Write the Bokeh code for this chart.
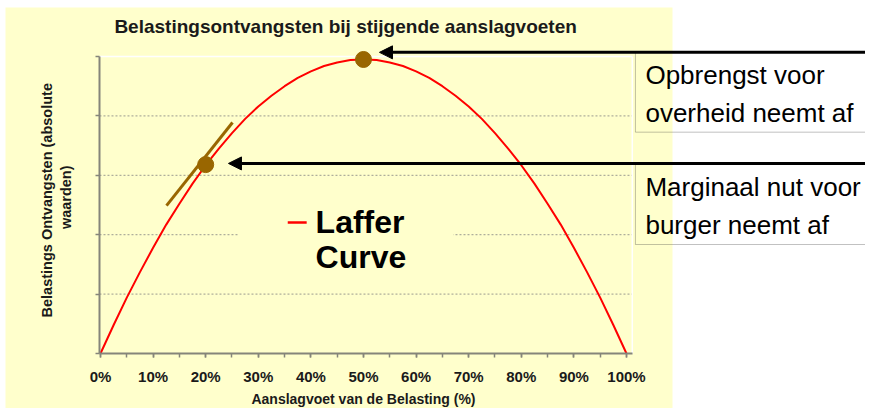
from math import pi
from bokeh.plotting import figure
from bokeh.models import (Range1d, FixedTicker, Label, Arrow, NormalHead,
                          BoxAnnotation)
from bokeh.embed import file_html
from bokeh.resources import INLINE

# ---------------- data ----------------
tax_rate = [0, 2.5, 5, 7.5, 10, 12.5, 15, 17.5, 20, 22.5, 25, 27.5, 30, 32.5, 35,
            37.5, 40, 42.5, 45, 47.5, 50, 52.5, 55, 57.5, 60, 62.5, 65, 67.5, 70,
            72.5, 75, 77.5, 80, 82.5, 85, 87.5, 90, 92.5, 95, 97.5, 100]
revenue = [0.00, 0.48, 0.94, 1.37, 1.78, 2.17, 2.52, 2.86, 3.17, 3.45, 3.71,
           3.95, 4.16, 4.34, 4.50, 4.64, 4.75, 4.84, 4.90, 4.94, 4.95,
           4.94, 4.90, 4.84, 4.75, 4.64, 4.50, 4.34, 4.16, 3.95, 3.71,
           3.45, 3.17, 2.86, 2.52, 2.17, 1.78, 1.37, 0.94, 0.48, 0.00]
x_ticks = [0, 10, 20, 30, 40, 50, 60, 70, 80, 90, 100]
x_minor_ticks = [0, 5, 10, 15, 20, 25, 30, 35, 40, 45, 50,
                 55, 60, 65, 70, 75, 80, 85, 90, 95, 100]
x_tick_labels = ["0%", "10%", "20%", "30%", "40%", "50%",
                 "60%", "70%", "80%", "90%", "100%"]
y_ticks = [0, 1, 2, 3, 4, 5]
grid_ticks = [1, 2, 3, 4]
marker_x = [20, 50]
marker_y = [3.18, 4.95]
tangent_x = [12.55, 25.1]
tangent_y = [2.49, 3.89]

title_text = "Belastingsontvangsten bij stijgende aanslagvoeten"
x_label = "Aanslagvoet van de Belasting (%)"
y_label_lines = ["Belastings Ontvangsten (absolute", "waarden)"]
legend_lines = ["Laffer", "Curve"]
box1_lines = ["Opbrengst voor", "overheid neemt af"]
box2_lines = ["Marginaal nut voor", "burger neemt af"]

YELLOW = "#FFFFCC"
AXIS = "#85857a"
FONT = "Liberation Sans"
X0, X1 = -0.19, 101.1   # plot-area extent in x (data units)

p = figure(width=865, height=408, output_backend="svg", toolbar_location=None,
           x_range=Range1d(-19.01, 145.44), y_range=Range1d(-0.926, 5.943),
           min_border=0, min_border_left=0, min_border_right=0,
           min_border_top=0, min_border_bottom=0)
p.background_fill_color = "white"
p.border_fill_color = "white"
p.outline_line_color = None
p.xgrid.visible = False
p.ygrid.visible = False

# yellow slide region
p.add_layout(BoxAnnotation(left=-18.06, right=108.75, bottom=-3, top=5.825,
                           fill_color=YELLOW, fill_alpha=1, line_color=None,
                           level="underlay"))

# grid lines of the plot area
p.segment(x0=X0, x1=X1, y0=grid_ticks, y1=grid_ticks, line_color="#9a9a90",
          line_dash="2 2", line_width=1)
p.segment(x0=[X0, X1], x1=[X1, X1], y0=[5, 0], y1=[5, 5], line_color="white", line_width=1.5)

# axes (fixed at the plot-area edges)
p.xaxis.fixed_location = 0
p.yaxis.fixed_location = X0
p.xaxis.bounds = (X0, X1)
p.yaxis.bounds = (0, 5)
p.xaxis.ticker = FixedTicker(ticks=x_ticks, minor_ticks=x_minor_ticks)
p.xaxis.major_label_overrides = {t: l for t, l in zip(x_ticks, x_tick_labels)}
p.xaxis.major_label_text_font = FONT
p.xaxis.major_label_text_font_style = "bold"
p.xaxis.major_label_text_font_size = "15px"
p.xaxis.major_label_text_color = "#1a1a1a"
p.xaxis.major_label_standoff = 11
p.xaxis.major_tick_in = 0
p.xaxis.major_tick_out = 4
p.xaxis.minor_tick_in = 0
p.xaxis.minor_tick_out = 4

p.yaxis.ticker = FixedTicker(ticks=y_ticks)
p.yaxis.major_label_overrides = {t: "" for t in y_ticks}
p.yaxis.major_tick_in = 0
p.yaxis.major_tick_out = 4

for ax in (p.xaxis, p.yaxis):
    ax.axis_line_color = AXIS
    ax.axis_line_width = 2
    ax.major_tick_line_color = AXIS
    ax.major_tick_line_width = 1.5
    ax.minor_tick_line_width = 1.5
p.xaxis.minor_tick_line_color = AXIS
p.yaxis.minor_tick_line_color = None

# legend area (interrupts the gridline)
p.quad(left=26.2, right=67.1, bottom=1.5, top=2.5, fill_color=YELLOW, line_color=None)
p.line([35.6, 39.2], [2.205, 2.205], line_color="red", line_width=2.5)
for txt, yy in zip(legend_lines, [2.222, 1.625]):
    p.add_layout(Label(x=40.9, y=yy, text=txt, text_font=FONT, text_font_style="bold",
                       text_font_size="32px", text_color="black",
                       text_align="left", text_baseline="middle"))

# curve, tangent, markers
p.line(tax_rate, revenue, line_color="red", line_width=2)
p.line(tangent_x, tangent_y, line_color="#996600", line_width=3)
p.scatter(marker_x, marker_y, size=16, fill_color="#996600", line_color="#996600")

# title and axis labels
p.add_layout(Label(x=46.6, y=5.505, text=title_text, text_font=FONT,
                   text_font_style="bold", text_font_size="19px", text_color="#1a1a1a",
                   text_align="center", text_baseline="middle"))
p.add_layout(Label(x=50, y=-0.768, text=x_label, text_font=FONT,
                   text_font_style="bold", text_font_size="14px", text_color="#1a1a1a",
                   text_align="center", text_baseline="middle"))
for txt, xx, yy in zip(y_label_lines, [-10.08, -6.65], [2.58, 2.63]):
    p.add_layout(Label(x=xx, y=yy, text=txt, text_font=FONT, angle=pi / 2,
                       text_font_style="bold", text_font_size="14.5px", text_color="#1a1a1a",
                       text_align="center", text_baseline="middle"))

# text boxes (left + bottom borders; top edge is the arrow)
p.add_layout(BoxAnnotation(left=101.7, right=200, bottom=3.726, top=5.07,
                           fill_alpha=0, line_color="#333333", line_width=1))
p.add_layout(BoxAnnotation(left=101.7, right=200, bottom=1.835, top=3.20,
                           fill_alpha=0, line_color="#333333", line_width=1))
for txt, yy in zip(box1_lines + box2_lines, [4.697, 4.057, 2.795, 2.163]):
    p.add_layout(Label(x=103.6, y=yy, text=txt, text_font=FONT,
                       text_font_size="26px", text_color="black",
                       text_align="left", text_baseline="middle"))

# arrows
for tip_x, yy in [(53.04, 5.07), (24.33, 3.20)]:
    p.add_layout(Arrow(end=NormalHead(size=13, fill_color="black", line_color="black"),
                       x_start=160, y_start=yy, x_end=tip_x, y_end=yy,
                       line_color="black", line_width=3))

open("out.html", "w").write(file_html(p, INLINE))
